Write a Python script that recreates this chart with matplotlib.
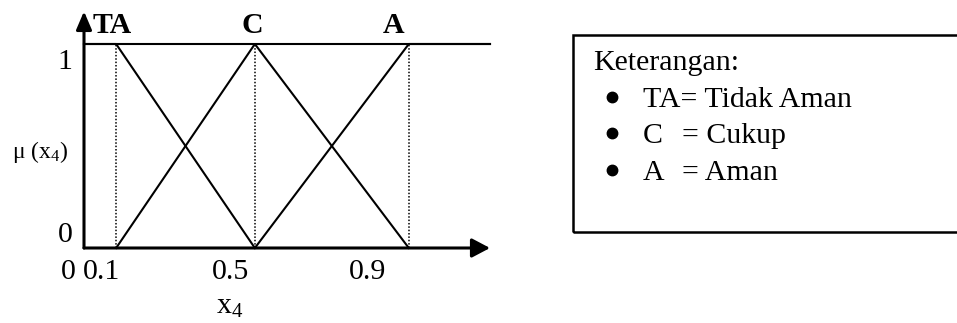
import matplotlib.pyplot as plt
from matplotlib.patches import Rectangle

plt.rcParams['font.family'] = ['Liberation Serif', 'DejaVu Serif']
plt.rcParams['mathtext.fontset'] = 'custom'
plt.rcParams['mathtext.rm'] = 'Liberation Serif'
plt.rcParams['mathtext.it'] = 'Liberation Serif'

# membership functions (peaks)
names = ["TA", "C", "A"]
peaks = [0.095, 0.505, 0.96]
ta_x = [0, 0.095, 0.505]
ta_y = [1, 1, 0]
c_x = [0.095, 0.505, 0.96]
c_y = [0, 1, 0]
a_x = [0.505, 0.96, 1.2]
a_y = [0, 1, 1]

# tick labels as they sit in the picture (not to scale)
xtick_pos = [-0.047, 0.053, 0.432, 0.837]
xtick_lab = ["0", "0.1", "0.5", "0.9"]
ytick_pos = [0.064, 0.91]
ytick_lab = ["0", "1"]

legend_title = "Keterangan:"
legend_keys = ["TA", "C", "A"]
legend_vals = ["Tidak Aman", "Cukup", "Aman"]

fig = plt.figure(figsize=(9.57, 3.23), dpi=100)
ax = fig.add_axes([84/957, 75/323, 406/957, 204/323])
ax.set_xlim(0, 1.2)
ax.set_ylim(0, 1)
ax.axis("off")

fs = 21.5
lw = 1.5

ax.plot([0, 1.2], [1, 1], color="black", lw=lw, clip_on=False)
ax.plot(ta_x, ta_y, color="black", lw=lw, clip_on=False)
ax.plot(c_x, c_y, color="black", lw=lw, clip_on=False)
ax.plot(a_x, a_y, color="black", lw=lw, clip_on=False)
for p in peaks:
    ax.plot([p, p], [0, 1], color="black", lw=1.1, ls=(0, (1, 1.2)), clip_on=False)

# axes with arrows
ax.annotate("", xy=(1.2, 0), xytext=(0, 0), annotation_clip=False,
            arrowprops=dict(arrowstyle="-|>,head_length=1.1,head_width=0.58", color="black", lw=2.2,
                            shrinkA=0, shrinkB=0, mutation_scale=10))
ax.annotate("", xy=(0, 1.16), xytext=(0, 0), annotation_clip=False,
            arrowprops=dict(arrowstyle="-|>,head_length=1.1,head_width=0.47", color="black", lw=2.2,
                            shrinkA=0, shrinkB=0, mutation_scale=10))

for n, p in zip(names, [0.083, 0.497, 0.915]):
    ax.text(p, 1.09, n, fontsize=fs, fontweight="bold", ha="center", va="center", clip_on=False)

for p, l in zip(xtick_pos, xtick_lab):
    ax.text(p, -0.118, l, fontsize=fs, ha="center", va="center")
for p, l in zip(ytick_pos, ytick_lab):
    ax.text(-0.056, p, l, fontsize=fs, ha="center", va="center")

ax.text(-0.13, 0.47, r"μ (x$_{\mathregular{4}}$)", fontsize=17, ha="center", va="center")
ax.text(0.43, -0.29, r"x$_{\mathregular{4}}$", fontsize=fs, ha="center", va="center")

# legend box, right side runs off the figure
fig.patches.append(Rectangle((573/957, 91/323), 0.5, 197/323, transform=fig.transFigure,
                             fill=False, edgecolor="black", lw=1.8))
fig.text(593/957, 1 - 63/323, legend_title, fontsize=fs, ha="left", va="center")
rows_y = [100, 136, 173]
for k, v, y in zip(legend_keys, legend_vals, rows_y):
    fig.lines.append(plt.Line2D([612/957], [1 - (y - 3)/323], marker="o", ms=7.5, color="black",
                                transform=fig.transFigure))
    if k == "TA":
        fig.text(643/957, 1 - y/323, k + "= " + v, fontsize=fs, ha="left", va="center")
    else:
        fig.text(643/957, 1 - y/323, k, fontsize=fs, ha="left", va="center")
        fig.text(682/957, 1 - y/323, "= " + v, fontsize=fs, ha="left", va="center")

fig.savefig("out.png", dpi=100)
